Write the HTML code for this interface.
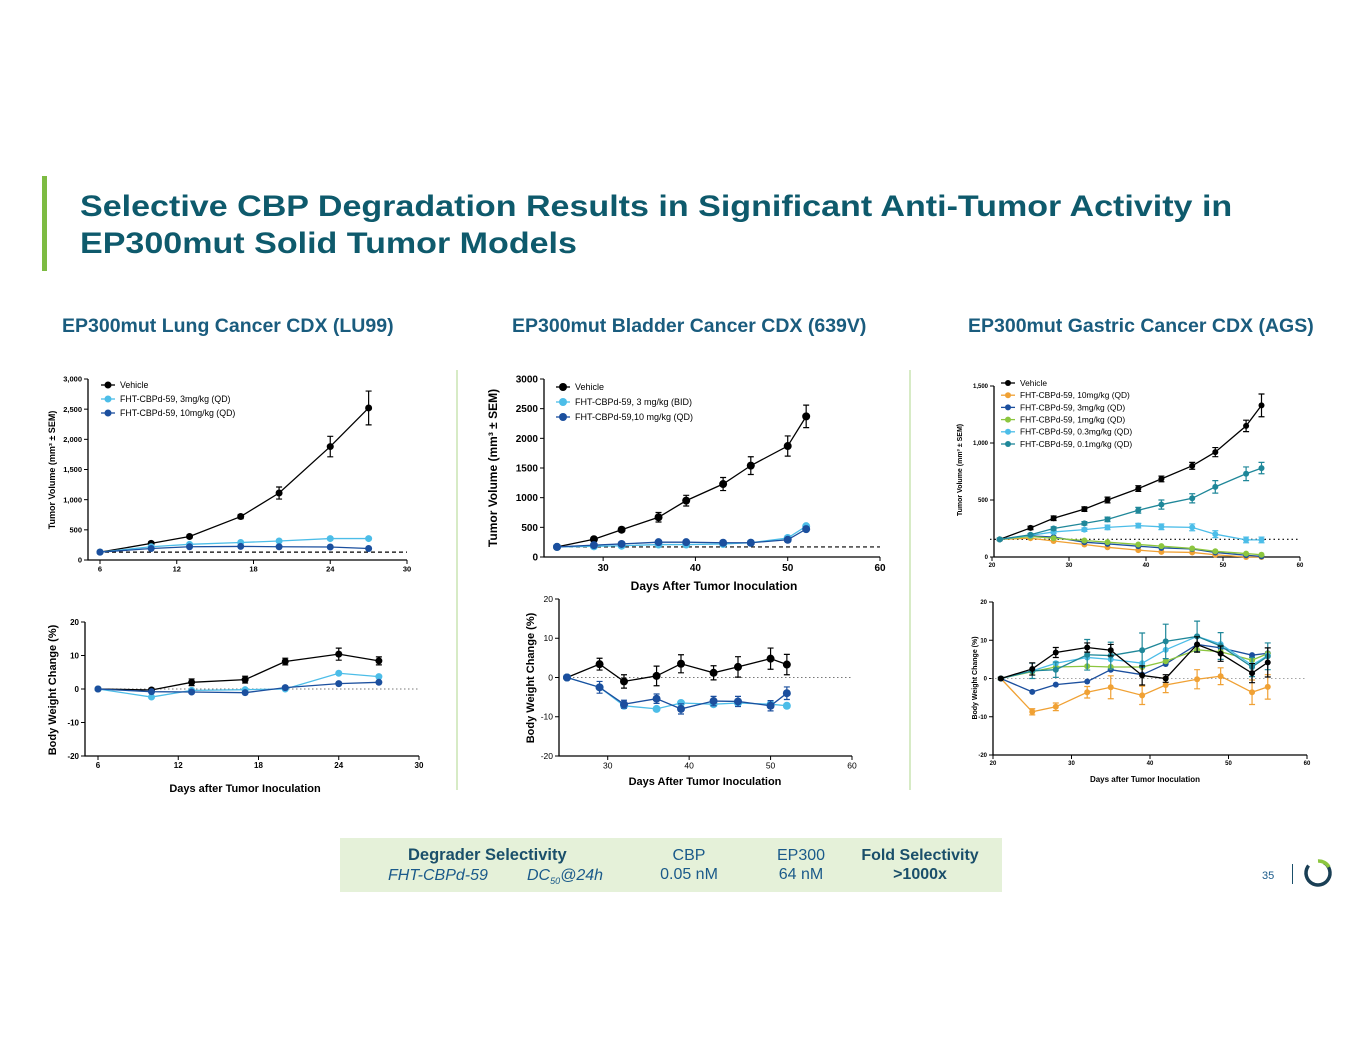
<!DOCTYPE html>
<html><head><meta charset="utf-8">
<style>
body{margin:0;background:#fff;}
#page{position:relative;width:1365px;height:1055px;overflow:hidden;font-family:"Liberation Sans",sans-serif;background:#fff;}
.t{position:absolute;white-space:nowrap;}
</style></head>
<body>
<div id="page">
<div class="t" style="left:42px;top:176px;width:5px;height:95px;background:#7dbb42;"></div>
<div class="t" style="left:80px;top:188px;font-size:30px;line-height:37px;font-weight:bold;color:#0e5a6c;transform:scaleX(1.135);transform-origin:0 0;">Selective CBP Degradation Results in Significant Anti-Tumor Activity in<br>EP300mut Solid Tumor Models</div>
<div class="t" style="left:62px;top:315px;font-size:19.5px;font-weight:bold;color:#1a5c7e;">EP300mut Lung Cancer CDX (LU99)</div>
<div class="t" style="left:512px;top:315px;font-size:19.5px;font-weight:bold;color:#1a5c7e;">EP300mut Bladder Cancer CDX (639V)</div>
<div class="t" style="left:968px;top:315px;font-size:19.5px;font-weight:bold;color:#1a5c7e;">EP300mut Gastric Cancer CDX (AGS)</div>

<div class="t" style="left:340px;top:838px;width:662px;height:54px;background:#e5f1d9;"></div>
<div class="t" style="left:408px;top:846px;font-size:16.5px;font-weight:bold;color:#1a4f6a;">Degrader Selectivity</div>
<div class="t" style="left:388px;top:867px;font-size:16px;font-style:italic;color:#1a5a8a;">FHT-CBPd-59</div>
<div class="t" style="left:527px;top:867px;font-size:16px;font-style:italic;color:#1a5a8a;">DC<sub style="font-size:9px">50</sub>@24h</div>
<div class="t" style="left:650px;top:846px;width:78px;text-align:center;font-size:16px;line-height:19px;color:#1a5a8a;">CBP<br>0.05 nM</div>
<div class="t" style="left:762px;top:846px;width:78px;text-align:center;font-size:16px;line-height:19px;color:#1a5a8a;">EP300<br>64 nM</div>
<div class="t" style="left:850px;top:846px;width:140px;text-align:center;font-size:16px;line-height:19px;font-weight:bold;color:#1a4f6a;">Fold Selectivity<br>&gt;1000x</div>
<div class="t" style="left:1262px;top:870px;font-size:11px;color:#1a5a8a;">35</div>
<div class="t" style="left:1292px;top:864px;width:1px;height:20px;background:#1a4f6a;"></div>

<svg id="chartsvg" width="1365" height="1055" style="position:absolute;left:0;top:0;">
<line x1="457" y1="370" x2="457" y2="790" stroke="#d7ebc6" stroke-width="2"/>
<line x1="910" y1="370" x2="910" y2="790" stroke="#d7ebc6" stroke-width="2"/>
<circle cx="1318" cy="873" r="12" fill="none" stroke="#1a3f55" stroke-width="3.5" stroke-dasharray="58 18" transform="rotate(-60 1318 873)"/>
<path d="M1318 861 A12 12 0 0 1 1329 867" fill="none" stroke="#8cc63f" stroke-width="3.5"/>
</svg>
</div>
<script>
// ---------- DATA ----------
const lungDays=[6,10,13,17,20,24,27];
const lungVehicle=[130,275,390,720,1110,1880,2520];
const lungVehicleErr=[15,25,25,35,100,170,280];
const lung3mg=[130,220,260,290,315,355,355];
const lung10mg=[130,190,220,225,220,215,190];
const lungBWVehicle=[0,-0.3,2,2.8,8.2,10.4,8.4];
const lungBWVehicleErr=[0.3,0.5,1,1,1,1.8,1.2];
const lungBW3mg=[0,-2.4,-0.4,-0.2,0,4.7,3.7];
const lungBW10mg=[0,-0.8,-0.9,-1.1,0.4,1.6,2];

const bladDays=[25,29,32,36,39,43,46,50,52];
const bladVehicle=[170,300,460,670,950,1230,1540,1870,2370];
const bladVehicleErr=[20,30,40,80,90,110,150,170,190];
const bladBID=[170,180,190,210,210,220,240,320,520];
const bladQD=[170,200,220,250,250,240,240,290,470];
const bladBWVehicle=[0,3.4,-1,0.4,3.5,1.2,2.7,4.8,3.3];
const bladBWVehicleErr=[0.3,1.5,1.7,2.5,2.3,1.8,2.6,2.7,2.6];
const bladBWBID=[0,-2.5,-7.2,-8,-6.5,-6.8,-6.5,-6.8,-7.2];
const bladBWQD=[0,-2.5,-6.8,-5.4,-8,-6,-6.1,-7.2,-4];
const bladBWQDErr=[0.3,1.5,1,1.2,1.3,1.2,1.3,1.3,1.6];

const gasDays=[21,25,28,32,35,39,42,46,49,53,55];
const gasVehicle=[155,255,340,420,500,600,685,800,920,1150,1330];
const gasVehicleErr=[10,15,20,20,25,25,25,30,40,50,100];
const gas10mg=[155,165,140,110,85,60,45,40,20,0,0];
const gas3mg=[155,185,175,130,115,95,80,70,40,15,5];
const gas1mg=[155,180,165,145,130,110,95,75,50,30,20];
const gas03mg=[155,190,220,240,260,275,265,260,200,150,150];
const gas03mgErr=[5,10,15,15,20,20,25,30,30,25,25];
const gas01mg=[155,195,250,295,330,410,460,515,615,730,780];
const gas01mgErr=[5,10,15,15,20,25,40,40,55,60,50];
const gasBWVehicle=[0,2.5,6.8,8.1,7.4,0.8,0,8.9,6.5,1.4,4.2];
const gasBWVehicleErr=[0.3,1.6,1.3,1.2,1.5,2.5,1,2,2,2.5,3.8];
const gasBW10mg=[0,-8.7,-7.4,-3.6,-2.3,-4.4,-1.7,-0.2,0.6,-3.6,-2.2];
const gasBW10mgErr=[0.3,0.8,1,1.5,3,2.4,2,2.5,2.2,3.2,3.2];
const gasBW3mg=[0,-3.5,-1.6,-0.8,2.3,1,3.8,8.9,8,6.1,6.6];
const gasBW1mg=[0,1.8,3,3.2,3,3,4.5,7.5,7,4.8,6.5];
const gasBW03mg=[0,2,4,5.5,5,4,7.5,11,9,3.5,6];
const gasBW01mg=[0,2,2.3,6.2,6,7.4,9.7,11,8.5,3,5.8];
const gasBW01mgErr=[0.3,2,2,4,3.5,4.5,4.5,4,3.5,2.5,3.5];

const lungXTicks=[6,12,18,24,30];
const lungYTicks=[0,500,1000,1500,2000,2500,3000];
const lungYTickLabels=["0","500","1,000","1,500","2,000","2,500","3,000"];
const bwYTicks=[-20,-10,0,10,20];
const bladXTicks=[30,40,50,60];
const bladYTicks=[0,500,1000,1500,2000,2500,3000];
const gasXTicks=[20,30,40,50,60];
const gasYTicks=[0,500,1000,1500];
const gasYTickLabels=["0","500","1,000","1,500"];

const C={black:"#000",light:"#4cbde8",dark:"#1b4f9e",orange:"#f0a134",green:"#8cc63f",teal:"#1f8799"};
const NS="http://www.w3.org/2000/svg";
const svg=document.getElementById('chartsvg');
function el(tag,attrs,parent){const e=document.createElementNS(NS,tag);for(const k in attrs)e.setAttribute(k,attrs[k]);(parent||svg).appendChild(e);return e;}

function chart(o){
  const g=el('g',{});
  
  
  const sx=v=>o.px0+(v-o.xmin)/(o.xmax-o.xmin)*(o.px1-o.px0);
  const sy=v=>o.py0+(v-o.ymin)/(o.ymax-o.ymin)*(o.py1-o.py0);
  const ax=el('path',{d:`M${o.axisX} ${o.py1}V${o.py0}H${o.px1}`,fill:'none',stroke:'#000','stroke-width':o.aw||1.3},g);
  
  
  o.xticks.forEach(v=>{
    el('line',{x1:sx(v),x2:sx(v),y1:o.py0,y2:o.py0+4,stroke:'#000','stroke-width':1},g);
    const t=el('text',{x:sx(v),y:o.py0+4+o.fs,'text-anchor':'middle','font-size':o.fs,'font-weight':o.fw||'bold'},g);
    
    
    t.textContent=v;
  });
  o.yticks.forEach((v,i)=>{
    el('line',{x1:o.axisX-4,x2:o.axisX,y1:sy(v),y2:sy(v),stroke:'#000','stroke-width':1},g);
    const t=el('text',{x:o.axisX-6,y:sy(v)+o.fs*0.35,'text-anchor':'end','font-size':o.fs,'font-weight':o.fw||'bold'},g);
    
    
    t.textContent=o.ylabels?o.ylabels[i]:v;
  });
  if(o.ref!==undefined){
    const r=el('line',{x1:o.px0-2,x2:o.refEnd||o.px1,y1:sy(o.ref),y2:sy(o.ref),stroke:o.refColor||'#000','stroke-width':o.refW||1.2,'stroke-dasharray':o.refDash||'4 3'},g);
    
    
  }
  o.series.forEach(s=>{
    const sg=el('g',{},g);
    
    
    const pts=o.x.map((d,i)=>[sx(d),sy(s.y[i])]);
    const p=el('polyline',{points:pts.map(p=>p.join(',')).join(' '),fill:'none',stroke:s.c,'stroke-width':o.lw||1.3},sg);
    
    
    if(s.err){o.x.forEach((d,i)=>{const x=sx(d),a=sy(s.y[i]+s.err[i]),b=sy(s.y[i]-s.err[i]);
      el('path',{d:`M${x} ${a}V${b}M${x-3} ${a}H${x+3}M${x-3} ${b}H${x+3}`,stroke:s.c,'stroke-width':1.2,fill:'none'},sg);});}
    pts.forEach(pt=>{const m=el('circle',{cx:pt[0],cy:pt[1],r:o.mr,fill:s.c},sg);
      
      });
  });
  if(o.legend){o.series.forEach((s,i)=>{const y=o.legend.y+i*o.legend.dy;
    el('line',{x1:o.legend.x-7,x2:o.legend.x+7,y1:y,y2:y,stroke:s.c,'stroke-width':1.3},g);
    el('circle',{cx:o.legend.x,cy:y,r:o.mr,fill:s.c},g);
    const t=el('text',{x:o.legend.x+12,y:y+o.legend.fs*0.35,'font-size':o.legend.fs},g);
    
    
    t.textContent=s.label;});}
  if(o.ytitle){const t=el('text',{x:o.ytitle.x,y:o.ytitle.y,'text-anchor':'middle','font-size':o.ytitle.fs,'font-weight':'bold',transform:`rotate(-90 ${o.ytitle.x} ${o.ytitle.y})`},g);
    
    
    t.textContent=o.ytitle.text;}
  if(o.xtitle){const t=el('text',{x:o.xtitle.x,y:o.xtitle.y,'text-anchor':'middle','font-size':o.xtitle.fs,'font-weight':'bold'},g);
    
    
    t.textContent=o.xtitle.text;}
}

chart({name:'lung-tumor-volume-chart',x:lungDays,xmin:6,xmax:30,px0:100,px1:407,ymin:0,ymax:3000,py0:560,py1:379,axisX:88,
  xticks:lungXTicks,yticks:lungYTicks,ylabels:lungYTickLabels,fs:7.5,mr:3.5,ref:130,
  series:[{name:'vehicle',label:'Vehicle',c:C.black,y:lungVehicle,err:lungVehicleErr},
          {name:'3mg-qd',label:'FHT-CBPd-59, 3mg/kg (QD)',c:C.light,y:lung3mg},
          {name:'10mg-qd',label:'FHT-CBPd-59, 10mg/kg (QD)',c:C.dark,y:lung10mg}],
  legend:{x:108,y:385,dy:14,fs:8.8},ytitle:{x:55,y:470,fs:9,text:'Tumor Volume (mm³ ± SEM)'}});
chart({name:'lung-body-weight-chart',x:lungDays,xmin:6,xmax:30,px0:98,px1:419,ymin:-20,ymax:20,py0:756,py1:622,axisX:85,
  xticks:lungXTicks,yticks:bwYTicks,fs:8,mr:3.5,ref:0,refColor:'#777',refDash:'1.5 2.5',refW:1,
  series:[{name:'vehicle',label:'Vehicle',c:C.black,y:lungBWVehicle,err:lungBWVehicleErr},
          {name:'3mg-qd',c:C.light,y:lungBW3mg},{name:'10mg-qd',c:C.dark,y:lungBW10mg}],
  ytitle:{x:56,y:690,fs:11,text:'Body Weight Change (%)'},xtitle:{x:245,y:792,fs:11,text:'Days after Tumor Inoculation'}});
chart({name:'bladder-tumor-volume-chart',x:bladDays,xmin:25,xmax:60,px0:557,px1:880,ymin:0,ymax:3000,py0:557,py1:379,axisX:544,
  xticks:bladXTicks,yticks:bladYTicks,fs:10,mr:4,ref:170,
  series:[{name:'vehicle',label:'Vehicle',c:C.black,y:bladVehicle,err:bladVehicleErr},
          {name:'3mg-bid',label:'FHT-CBPd-59, 3 mg/kg (BID)',c:C.light,y:bladBID},
          {name:'10mg-qd',label:'FHT-CBPd-59,10 mg/kg (QD)',c:C.dark,y:bladQD}],
  legend:{x:563,y:387,dy:15,fs:9},ytitle:{x:497,y:468,fs:12,text:'Tumor Volume (mm³ ± SEM)'},
  xtitle:{x:714,y:590,fs:12,text:'Days After Tumor Inoculation'}});
chart({name:'bladder-body-weight-chart',x:bladDays,xmin:25,xmax:60,px0:567,px1:852,ymin:-20,ymax:20,py0:756,py1:599,axisX:559,
  xticks:bladXTicks,yticks:bwYTicks,fs:8.5,fw:'normal',mr:4,ref:0,refEnd:852,refColor:'#777',refDash:'1.5 2.5',refW:1,
  series:[{name:'vehicle',c:C.black,y:bladBWVehicle,err:bladBWVehicleErr},
          {name:'3mg-bid',c:C.light,y:bladBWBID},{name:'10mg-qd',c:C.dark,y:bladBWQD,err:bladBWQDErr}],
  ytitle:{x:534,y:678,fs:11,text:'Body Weight Change (%)'},xtitle:{x:705,y:785,fs:11,text:'Days After Tumor Inoculation'}});
chart({name:'gastric-tumor-volume-chart',x:gasDays,xmin:20,xmax:60,px0:992,px1:1300,ymin:0,ymax:1500,py0:557,py1:386,axisX:994,
  xticks:gasXTicks,yticks:gasYTicks,ylabels:gasYTickLabels,fs:6,mr:3,ref:155,refDash:'1.5 3',
  series:[{name:'vehicle',label:'Vehicle',c:C.black,y:gasVehicle,err:gasVehicleErr},
          {name:'10mg-qd',label:'FHT-CBPd-59, 10mg/kg (QD)',c:C.orange,y:gas10mg},
          {name:'3mg-qd',label:'FHT-CBPd-59, 3mg/kg (QD)',c:C.dark,y:gas3mg},
          {name:'1mg-qd',label:'FHT-CBPd-59, 1mg/kg (QD)',c:C.green,y:gas1mg},
          {name:'0.3mg-qd',label:'FHT-CBPd-59, 0.3mg/kg (QD)',c:C.light,y:gas03mg,err:gas03mgErr},
          {name:'0.1mg-qd',label:'FHT-CBPd-59, 0.1mg/kg (QD)',c:C.teal,y:gas01mg,err:gas01mgErr}],
  legend:{x:1008,y:383,dy:12.2,fs:8.4},ytitle:{x:962,y:470,fs:7,text:'Tumor Volume (mm³ ± SEM)'}});
chart({name:'gastric-body-weight-chart',x:gasDays,xmin:20,xmax:60,px0:993,px1:1307,ymin:-20,ymax:20,py0:755,py1:602,axisX:993,
  xticks:gasXTicks,yticks:bwYTicks,fs:6,mr:3,ref:0,refColor:'#888',refDash:'1.5 2.5',refW:0.8,
  series:[{name:'10mg-qd',c:C.orange,y:gasBW10mg,err:gasBW10mgErr},{name:'3mg-qd',c:C.dark,y:gasBW3mg},
          {name:'1mg-qd',c:C.green,y:gasBW1mg},{name:'0.3mg-qd',c:C.light,y:gasBW03mg},
          {name:'0.1mg-qd',c:C.teal,y:gasBW01mg,err:gasBW01mgErr},{name:'vehicle',c:C.black,y:gasBWVehicle,err:gasBWVehicleErr}],
  ytitle:{x:977,y:678,fs:7,text:'Body Weight Change (%)'},xtitle:{x:1145,y:782,fs:8,text:'Days after Tumor Inoculation'}});
</script>
</body></html>
